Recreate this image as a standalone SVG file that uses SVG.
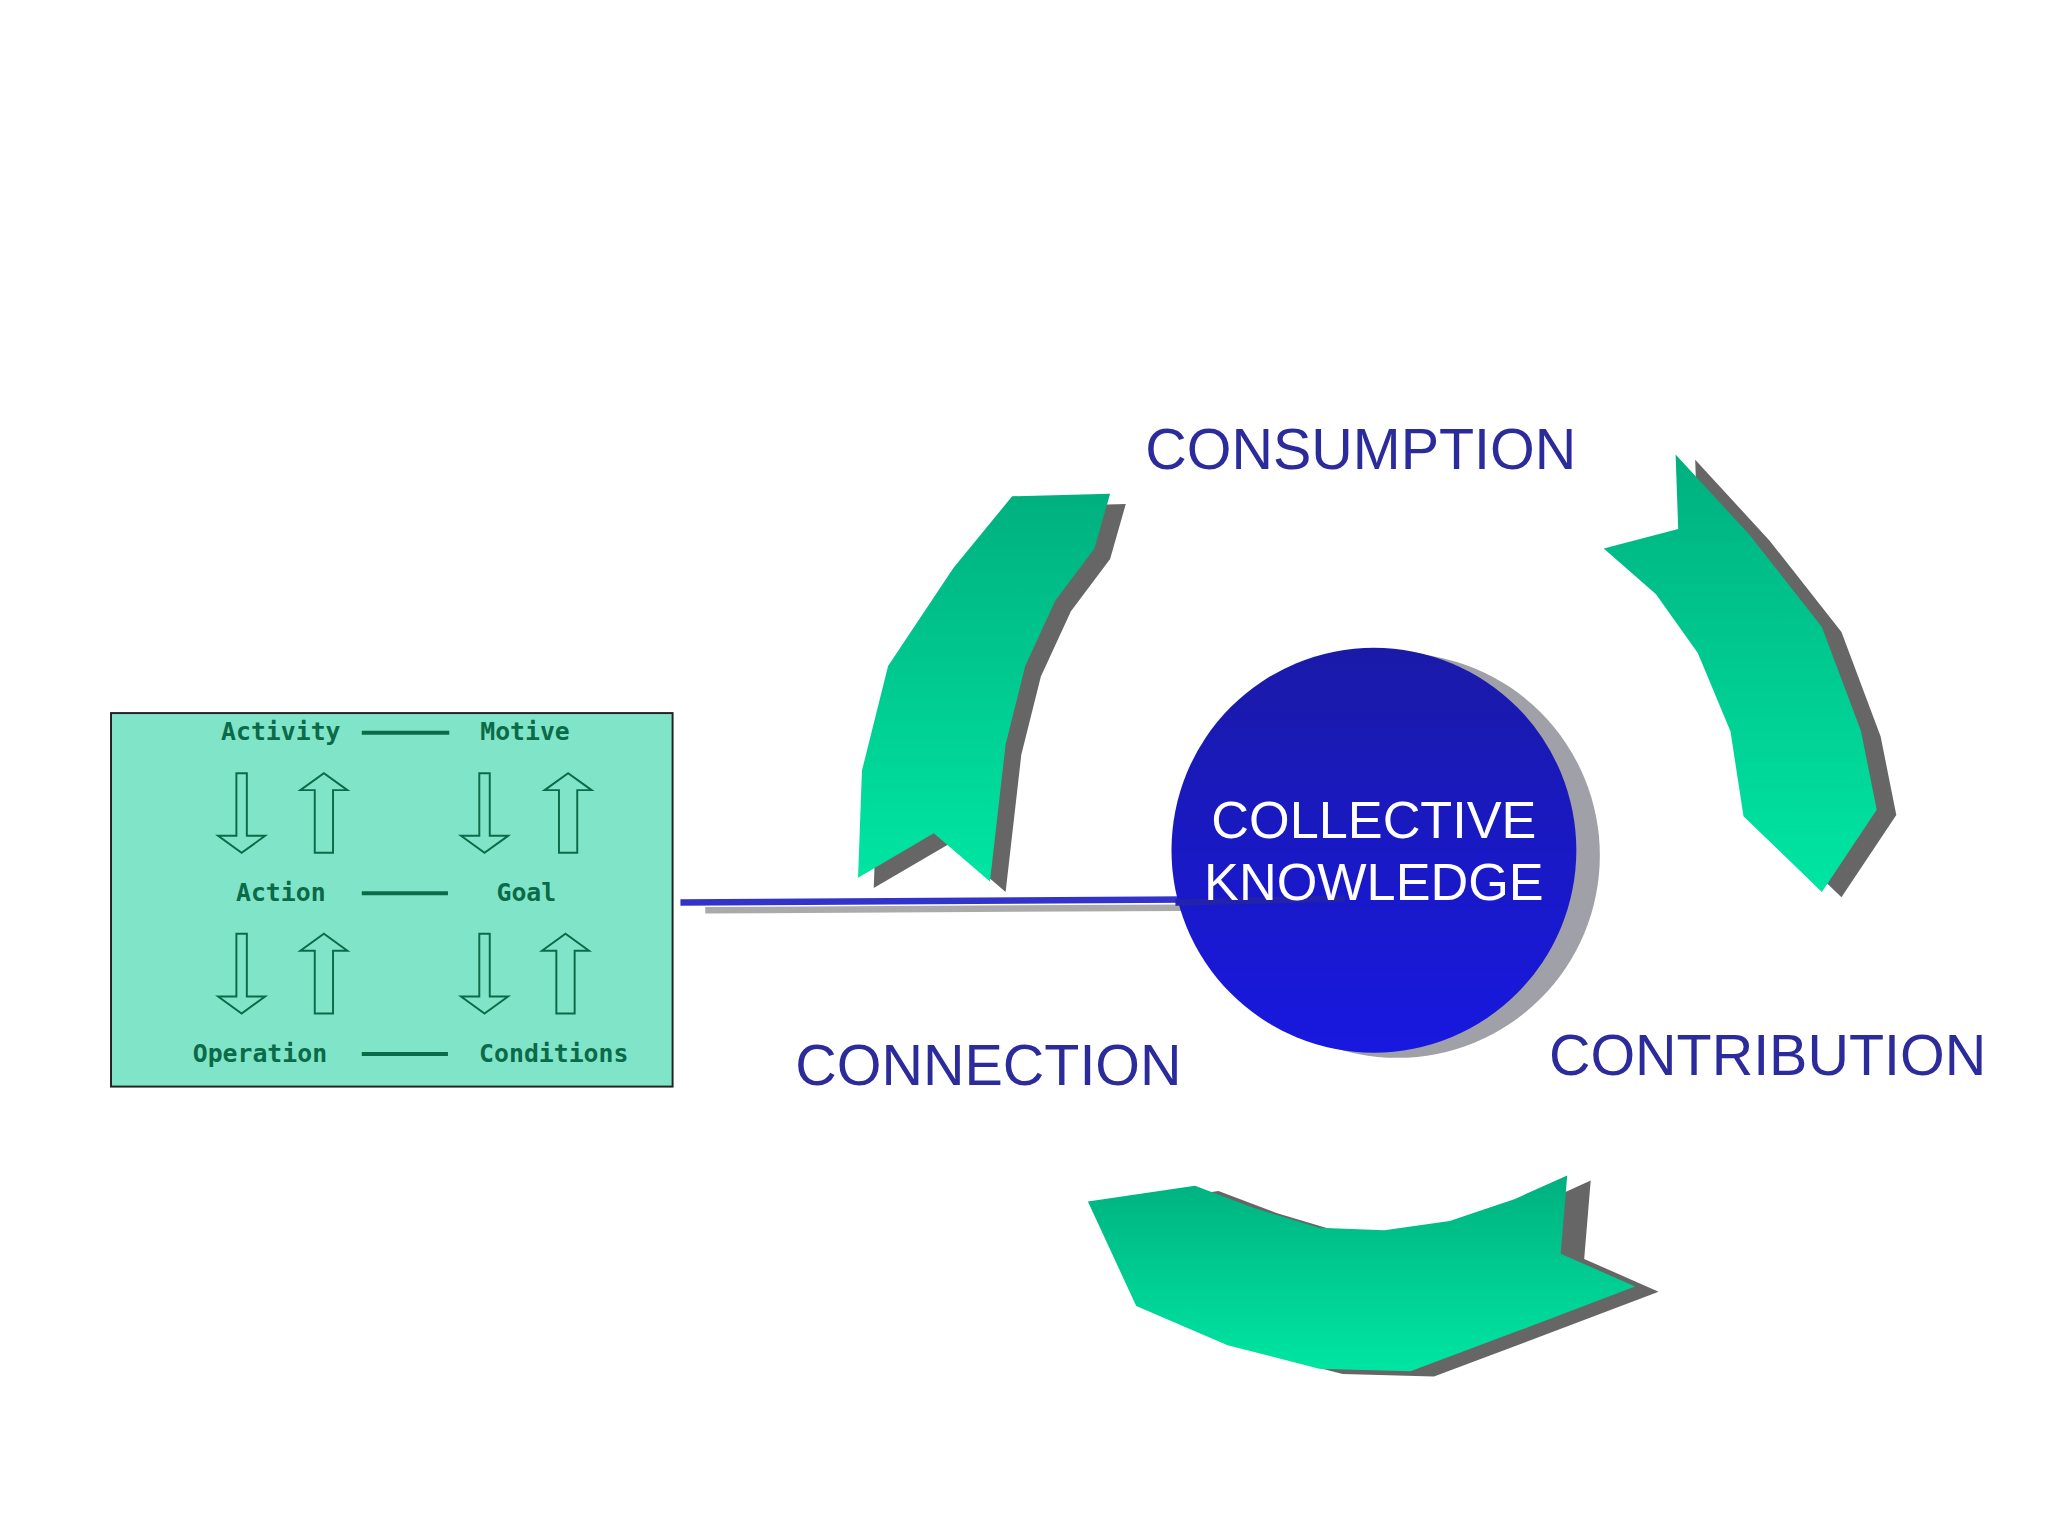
<svg xmlns="http://www.w3.org/2000/svg" width="2048" height="1536" viewBox="0 0 2048 1536">
<defs>
<linearGradient id="g" x1="0" y1="0" x2="0" y2="1"><stop offset="0" stop-color="#00b07e"/><stop offset="1" stop-color="#00e6a2"/></linearGradient>
<linearGradient id="c" x1="0" y1="0" x2="0" y2="1"><stop offset="0" stop-color="#1a1aa8"/><stop offset="1" stop-color="#1818e0"/></linearGradient>
<style>
.big{font-family:"Liberation Sans",Arial,sans-serif;font-size:44px;fill:#2b2b9c}
.ck{font-family:"Liberation Sans",Arial,sans-serif;font-size:40px;fill:#fff;text-anchor:middle}
.bx{font-family:"DejaVu Sans Mono",monospace;font-size:19px;font-weight:bold;fill:#0b6a48;text-anchor:middle}
.sh{fill:#666}
.ar{fill:url(#g)}
.ba{fill:none;stroke:#0b6a48;stroke-width:1.5}
</style>
<g id="da"><path class="ba" d="M-4,0 H4 V48 H18 L0,61 L-18,48 H-4 Z"/></g>
<g id="ua"><path class="ba" d="M-7,61 H7 V13 H18 L0,0 L-18,13 H-7 Z"/></g>
</defs>
<rect width="2048" height="1536" fill="#fff"/>
<g transform="scale(1.306)">
<g id="box">
<rect x="85" y="546" width="430" height="286" fill="#80e5c8" stroke="#222" stroke-width="1.5"/>
<text class="bx" x="215" y="567">Activity</text><text class="bx" x="402" y="567">Motive</text>
<text class="bx" x="215" y="690">Action</text><text class="bx" x="403" y="690">Goal</text>
<text class="bx" x="199" y="813">Operation</text><text class="bx" x="424" y="813">Conditions</text>
<g stroke="#0b6a48" stroke-width="3"><line x1="277" y1="561" x2="344" y2="561"/><line x1="277" y1="684" x2="343" y2="684"/><line x1="277" y1="807" x2="343" y2="807"/></g>
<use href="#da" x="185" y="592"/><use href="#ua" x="248" y="592"/><use href="#da" x="371" y="592"/><use href="#ua" x="435" y="592"/>
<use href="#da" x="185" y="715"/><use href="#ua" x="248" y="715"/><use href="#da" x="371" y="715"/><use href="#ua" x="433" y="715"/>
</g>
<g id="arrows">
<g transform="translate(12,8)" class="sh"><path d="M775,380 L850,378 L838,420 L808,460 L785,510 L770,570 L758,675 L715,638 L657,672 L660,590 L680,510 L730,435 Z"/></g>
<path class="ar" d="M775,380 L850,378 L838,420 L808,460 L785,510 L770,570 L758,675 L715,638 L657,672 L660,590 L680,510 L730,435 Z"/>
<g transform="translate(15,4)" class="sh"><path d="M1283,348 L1340,410 L1395,480 L1425,560 L1437,620 L1395,683 L1335,625 L1325,560 L1300,500 L1268,455 L1228,420 L1285,405 Z"/></g>
<path class="ar" d="M1283,348 L1340,410 L1395,480 L1425,560 L1437,620 L1395,683 L1335,625 L1325,560 L1300,500 L1268,455 L1228,420 L1285,405 Z"/>
<g transform="translate(18,4)" class="sh"><path d="M833,920 L915,908 L960,925 L1010,940 L1060,942 L1110,935 L1160,918 L1200,900 L1195,960 L1252,985 L1160,1020 L1080,1050 L1010,1048 L940,1030 L870,1000 Z"/></g>
<path class="ar" d="M833,920 L915,908 L960,925 L1010,940 L1060,942 L1110,935 L1160,918 L1200,900 L1195,960 L1252,985 L1160,1020 L1080,1050 L1010,1048 L940,1030 L870,1000 Z"/>
</g>
<g id="connectors">
<line x1="540" y1="697" x2="905" y2="695" stroke="#aaa" stroke-width="5"/>
<line x1="521" y1="691" x2="1030" y2="688" stroke="#3333cc" stroke-width="5"/>
</g>
<g id="center">
<circle cx="1070" cy="655" r="155" fill="#a0a0a8"/>
<circle cx="1052" cy="651" r="155" fill="url(#c)"/>
<line x1="900" y1="691" x2="1030" y2="688" stroke="#2222aa" stroke-width="5"/>
<text class="ck" x="1052" y="642">COLLECTIVE</text>
<text class="ck" x="1052" y="689">KNOWLEDGE</text>
</g>
<g id="labels">
<text class="big" x="877" y="359">CONSUMPTION</text>
<text class="big" x="609" y="831">CONNECTION</text>
<text class="big" x="1186" y="823">CONTRIBUTION</text>
</g>
</g>
</svg>
